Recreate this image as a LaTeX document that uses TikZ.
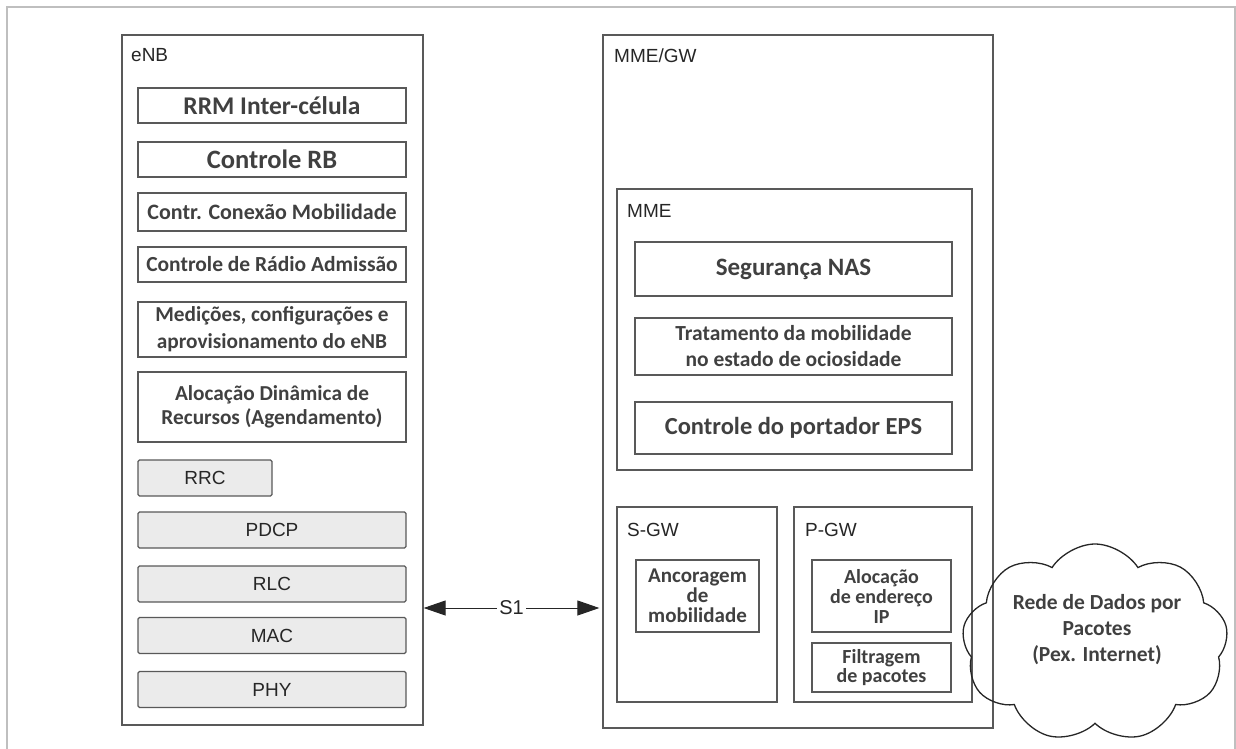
\documentclass[tikz,border=0pt]{standalone}
\usepackage{fontspec}
\usepackage{tikz}
\usetikzlibrary{arrows.meta}
\usetikzlibrary{shapes.symbols}
\newfontfamily\carlito{Carlito}
\newfontfamily\arialfont{Liberation Sans}
\newcommand{\fsz}[2]{\fontsize{#1}{#2}\selectfont}

\begin{document}
\begin{tikzpicture}[x=1pt, y=-1pt,
  frame/.style={draw=black!65, line width=1.3pt, inner sep=0pt},
  blockbox/.style={frame, text=black!75, align=center},
  layerbox/.style={frame, fill=black!8, rounded corners=1.5pt, minimum height=36,
    text=black!85, font=\arialfont\fsz{19}{21}},
  tag/.style={anchor=base west, inner sep=0pt, text=black!85, font=\arialfont\fsz{19}{21}},
  bold/.style n args={2}{font=\carlito\bfseries\fsz{#1}{#2}}]
  \useasboundingbox (0,0) rectangle (1236,749);
  \draw[black!25, line width=1.3pt] (7,749) |- (1235,7) -- (1235,749);

  % eNB
  \node[frame, minimum width=301, minimum height=690] (enb) at (272.5,380) {};
  \node[tag] (enblbl) at (131,62) {eNB};
  \node[blockbox, minimum width=268, minimum height=35, bold={25.5}{27}] (rrm) at (272,105.5) {RRM Inter-célula};
  \node[blockbox, minimum width=268, minimum height=35, bold={26.5}{27}] (rbc) at (272,159.5) {Controle RB};
  \node[blockbox, minimum width=268, minimum height=38, bold={22}{24}] (cmc) at (272,212) {Contr. Conexão Mobilidade};
  \node[blockbox, minimum width=268, minimum height=35, bold={21.5}{24}] (rac) at (272,264.5) {Controle de Rádio Admissão};
  \node[blockbox, minimum width=268, minimum height=55, bold={21.3}{27}] (meas) at (272,329.5) {Medições, configurações e\\aprovisionamento do eNB};
  \node[blockbox, minimum width=268, minimum height=70, bold={21.3}{24}] (sched) at (272,407) {Alocação Dinâmica de\\Recursos (Agendamento)};
  \node[layerbox, minimum width=134] (rrc) at (205,478) {RRC};
  \node[layerbox, minimum width=268] (pdcp) at (272,530) {PDCP};
  \node[layerbox, minimum width=268] (rlc) at (272,584) {RLC};
  \node[layerbox, minimum width=268] (mac) at (272,635.5) {MAC};
  \node[layerbox, minimum width=268] (phy) at (272,689.5) {PHY};

  % MME/GW
  \node[frame, minimum width=390, minimum height=693] (mmegw) at (798,381.5) {};
  \node[tag] (mmegwlbl) at (614,63) {MME/GW};
  \node[frame, minimum width=355, minimum height=281] (mme) at (794.5,329.5) {};
  \node[tag] (mmelbl) at (627,217) {MME};
  \node[blockbox, minimum width=317, minimum height=54, bold={25}{27}] (nas) at (793.5,269) {Segurança NAS};
  \node[blockbox, minimum width=317, minimum height=57, bold={21.5}{26}] (idle) at (793.5,346.5) {Tratamento da mobilidade\\no estado de ociosidade};
  \node[blockbox, minimum width=317, minimum height=52, bold={24.5}{27}] (eps) at (793.5,428) {Controle do portador EPS};

  \node[frame, minimum width=160, minimum height=195] (sgw) at (697,604.5) {};
  \node[tag] (sgwlbl) at (627,536) {S-GW};
  \node[blockbox, minimum width=123, minimum height=72, bold={21}{20}] (anch) at (697.5,596) {Ancoragem\\de\\mobilidade};

  \node[frame, minimum width=178, minimum height=195] (pgw) at (883,604.5) {};
  \node[tag] (pgwlbl) at (805,536) {P-GW};
  \node[blockbox, minimum width=139, minimum height=72, bold={20}{20}] (ipal) at (881.5,596) {Alocação\\de endereço\\IP};
  \node[blockbox, minimum width=139, minimum height=49, bold={20}{19.5}] (filt) at (881.5,667.5) {Filtragem\\de pacotes};

  % S1
  \coordinate (s1y) at (0,608);
  \draw[black!85, line width=1pt, {Triangle[length=22pt, width=15pt]}-{Triangle[length=22pt, width=15pt]}]
    (enb.east |- s1y) -- ([xshift=-3pt]mmegw.west |- s1y)
    node[midway, fill=white, inner sep=2pt, text=black!85, font=\arialfont\fsz{20}{22}] (s1) {S1};

  % PDN cloud
  \node[cloud, draw=black!85, line width=1.3pt, cloud puffs=9, cloud puff arc=115, aspect=1.35,
    minimum width=266, minimum height=198] (pdn) at (1095,643) {};
  \node[blockbox, draw=none, bold={21.5}{26}] (pdnlbl) at (1097,630) {Rede de Dados por\\Pacotes\\(Pex. Internet)};
\end{tikzpicture}
\end{document}
